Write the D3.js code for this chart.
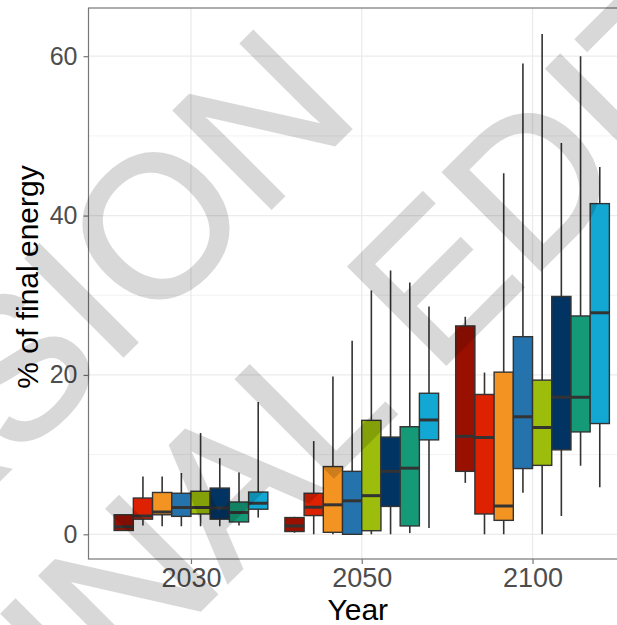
<!DOCTYPE html>
<html lang="en">

<head>
    <meta charset="UTF-8" />
    <title>% of final energy</title>
    <style>
        body { margin: 0; background: #fff; }
        svg text { font-family: "Liberation Sans", Arial, sans-serif; }
    </style>
</head>

<body>
    <div id="container"></div>
</body>
<script src="https://cdnjs.cloudflare.com/ajax/libs/d3/7.8.5/d3.min.js"></script>
<script>
    // categories on the x axis
    const years = ['2030', '2050', '2100']
    // one box per series inside each year
    const series = ['s1', 's2', 's3', 's4', 's5', 's6', 's7', 's8']
    const colors = ['#9a1000', '#de2100', '#f39422', '#2473ad', '#9cbd0b', '#023463', '#159a77', '#13a8d3']

    // [lower whisker, q1, median, q3, upper whisker] for every series
    const box2030 = [
        [0.45, 0.48, 0.95, 2.45, 2.45],
        [1.1, 1.9, 2.3, 4.55, 7.25],
        [1.0, 2.45, 2.8, 5.25, 7.25],
        [1.0, 2.25, 3.35, 5.15, 7.7],
        [1.0, 2.55, 3.35, 5.4, 12.7],
        [1.0, 1.9, 3.3, 5.8, 9.55],
        [1.1, 1.55, 2.75, 4.05, 7.75],
        [2.1, 3.15, 3.9, 5.3, 16.6]
    ]
    const box2050 = [
        [0.2, 0.35, 1.05, 2.1, 2.2],
        [0, 2.35, 3.4, 5.15, 11.7],
        [0, 0.25, 3.7, 8.5, 19.8],
        [0, 0, 4.2, 7.9, 24.3],
        [0, 0.45, 4.85, 14.3, 30.6],
        [0, 3.5, 7.9, 12.2, 33.1],
        [0.15, 1.05, 8.3, 13.5, 31.6],
        [0.8, 11.85, 14.35, 17.7, 28.6]
    ]
    const box2100 = [
        [6.45, 7.9, 12.3, 26.15, 27.3],
        [0, 2.55, 12.15, 17.55, 20.3],
        [0, 1.75, 3.55, 20.35, 45.3],
        [5.2, 8.25, 14.75, 24.8, 59.1],
        [0, 8.65, 13.4, 19.35, 62.8],
        [2.3, 10.6, 17.2, 29.85, 49.1],
        [8.6, 12.85, 17.2, 27.4, 60.0],
        [5.9, 13.9, 27.8, 41.5, 46.1]
    ]
    const yTicks = [0, 20, 40, 60]
    const yMinor = [10, 30, 50]
    const watermark = ['ACCEPTED VERSION', 'SUBJECT TO FINAL EDITS']

    const boxes = [box2030, box2050, box2100]
    let data = []
    years.forEach((yr, i) => {
        boxes[i].forEach((b, j) => {
            data.push({ year: yr, s: series[j], color: colors[j], lo: b[0], q1: b[1], med: b[2], q3: b[3], hi: b[4] })
        })
    })

    let W = 617, H = 625
    let L = 88.5, T = 8, R = 635, B = 559

    let svg = d3.select('#container').append('svg').attr('width', W).attr('height', H)

    // scales (ggplot-like discrete expansion of 0.6)
    let x = d3.scalePoint().domain(years).range([L, R]).padding(0.6)
    let step = x.step()
    let xs = d3.scaleBand().domain(series).range([-0.45 * step, 0.45 * step]).padding(0)
    let y = d3.scaleLinear().domain([-3.1, 66.05]).range([B, T])

    svg.append('defs').append('clipPath').attr('id', 'clip')
        .append('rect').attr('x', L).attr('y', T).attr('width', R - L).attr('height', B - T)

    let panel = svg.append('g').attr('clip-path', 'url(#clip)')

    // grid
    panel.selectAll('.minor').data(yMinor).enter().append('line')
        .attr('x1', L).attr('x2', R).attr('y1', d => y(d)).attr('y2', d => y(d))
        .attr('stroke', '#f2f2f2').attr('stroke-width', 1)
    panel.selectAll('.major').data(yTicks).enter().append('line')
        .attr('x1', L).attr('x2', R).attr('y1', d => y(d)).attr('y2', d => y(d))
        .attr('stroke', '#ebebeb').attr('stroke-width', 1.3)
    panel.selectAll('.vgrid').data(years).enter().append('line')
        .attr('x1', d => x(d)).attr('x2', d => x(d)).attr('y1', T).attr('y2', B)
        .attr('stroke', '#ebebeb').attr('stroke-width', 1.3)

    // boxplots
    let bw = xs.bandwidth()
    let g = panel.selectAll('.box').data(data).enter().append('g')
        .attr('transform', d => `translate(${x(d.year) + xs(d.s)}, 0)`)
    g.append('line')
        .attr('x1', bw / 2).attr('x2', bw / 2)
        .attr('y1', d => y(d.lo)).attr('y2', d => y(d.hi))
        .attr('stroke', '#333').attr('stroke-width', 1.6)
    g.append('rect')
        .attr('x', 0).attr('width', bw)
        .attr('y', d => y(d.q3)).attr('height', d => y(d.q1) - y(d.q3))
        .attr('fill', d => d.color).attr('stroke', '#333').attr('stroke-width', 1.4)
    g.append('line')
        .attr('x1', 0).attr('x2', bw)
        .attr('y1', d => y(d.med)).attr('y2', d => y(d.med))
        .attr('stroke', '#333').attr('stroke-width', 3)

    // panel border
    svg.append('rect').attr('x', L).attr('y', T).attr('width', R - L).attr('height', B - T)
        .attr('fill', 'none').attr('stroke', '#777').attr('stroke-width', 1.2)

    // axes
    let yAxis = svg.append('g').attr('transform', `translate(${L},0)`)
        .call(d3.axisLeft(y).tickValues(yTicks).tickSize(5).tickPadding(6))
    yAxis.select('.domain').remove()
    yAxis.selectAll('line').attr('stroke', '#777').attr('stroke-width', 1.2)
    yAxis.selectAll('text').attr('fill', '#4d4d4d').style('font-size', '25px')

    let xAxis = svg.append('g').attr('transform', `translate(0,${B})`)
        .call(d3.axisBottom(x).tickSize(5).tickPadding(4))
    xAxis.select('.domain').remove()
    xAxis.selectAll('line').attr('stroke', '#777').attr('stroke-width', 1.2)
    xAxis.selectAll('text').attr('fill', '#4d4d4d').style('font-size', '27px')

    svg.append('text').text('Year')
        .attr('x', (L + R) / 2 - 4).attr('y', 620)
        .attr('text-anchor', 'middle').style('font-size', '30px').attr('fill', '#000')
    svg.append('text').text('% of final energy')
        .attr('transform', 'translate(38,277) rotate(-90)')
        .attr('text-anchor', 'middle').style('font-size', '30px').attr('fill', '#000')

    // diagonal watermark on top
    let wm = svg.append('g').attr('transform', 'rotate(-45)').attr('opacity', 0.15)
    wm.append('text').text(watermark[0])
        .attr('x', 173).attr('y', 339)
        .attr('text-anchor', 'end').style('font-size', '200px')
        .attr('fill', '#000').attr('stroke', '#000').attr('stroke-width', 3)
    let t2 = wm.append('text').text(watermark[1])
        .attr('y', 573).style('font-size', '200px')
        .attr('fill', '#000').attr('stroke', '#000').attr('stroke-width', 3)
    let off = t2.node().getSubStringLength(0, watermark[1].indexOf('EDITS'))
    t2.attr('x', 42 - off)
</script>

</html>
